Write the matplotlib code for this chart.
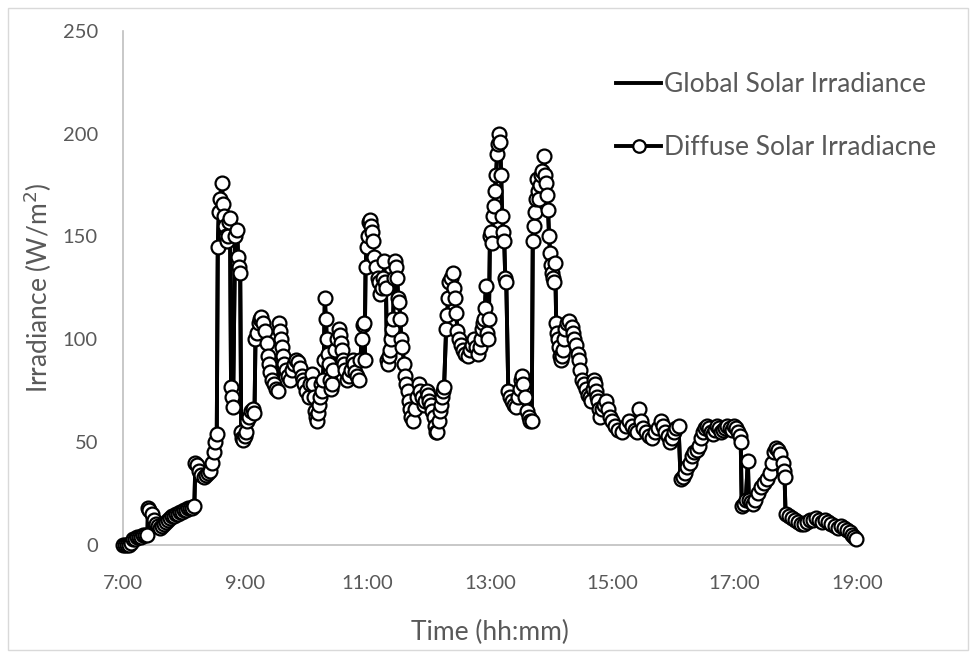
import matplotlib
matplotlib.use("Agg")
import matplotlib.pyplot as plt
from matplotlib.patches import Rectangle
import numpy as np

# minutes after 07:00 and diffuse irradiance (W/m2)
t_min = [0,2,4,6,8,10,12,14,16,18,20,22,24,
 24.5,26,28,30,32,34,36,38,40,42,44,46,48,50,52,54,56,58,60,62,64,66,68,70,
 71,73,75,77,79,81,83,85,87,89,90,92,
 93,94,95,97,98,99,100,101,102,103,104,105,
 106,107,108,
 110,112,113,114,115,
 116,117,118,120,121,122,124,126,128,129,
 130,131,133,134,135,137,139,141,142,143,144,146,148,150,152,
 153,154,155,156,157,158,160,162,164,166,168,170,172,174,176,177,178,180,182,183,185,186,187,188,189,190,191,192,193,194,195,196,197,198,199,200,201,202,203,204,205,206,208,210,212,213,214,215,216,217,218,220,222,224,226,227,228,230,232,233,234,235,236,237,
 238,239,240,241,242,243,244,245,246,248,250,251,252,254,255,256,257,258,
 259,260,261,262,263,264,265,266,267,268,269,270,271,272,273,274,276,277,278,280,281,282,283,285,286,288,290,291,293,295,296,298,299,300,302,303,305,306,307,308,310,311,312,313,314,315,
 317,318,319,320,322,324,325,326,327,328,330,332,334,336,338,340,342,344,346,348,350,351,352,353,354,355,356,357,358,359,
 360,361,362,363,364,365,366,367,368,369,370,371,372,373,374,375,376,
 378,380,382,384,386,388,389,390,391,392,394,396,398,399,401,
 402,403,404,405,406,407,408,409,410,411,413,414,415,416,417,418,419,420,421,422,423,424,
 425,426,427,428,429,430,431,432,433,434,436,438,440,441,442,444,446,447,448,450,452,454,456,458,459,461,462,463,464,465,466,467,468,470,472,474,476,478,480,483,486,490,493,496,499,502,504,506,508,510,513,516,519,522,525,528,530,532,535,537,539,541,543,545,
 547,549,551,553,556,558,560,563,565,567,569,571,573,575,577,579,581,583,585,587,589,591,593,595,597,599,601,603,605,606,
 607,609,611,613,614,616,618,620,623,626,629,632,635,637,639,641,643,645,647,648,649,
 650,653,656,659,662,665,668,671,674,677,680,683,686,689,692,695,698,701,704,707,710,713,715,717,719]

diffuse = [0,0,0,0,1,3,3,4,4,4,5,5,5,
 18,17,15,12,10,9,8,9,10,11,12,13,14,14,15,15,16,16,17,17,18,18,18,19,
 40,39,36,34,33,34,35,36,40,45,50,54,
 145,162,168,176,166,160,155,150,148,150,157,159,
 77,72,67,
 150,153,140,135,132,
 55,52,51,53,55,60,62,65,66,64,
 100,103,108,110,111,108,104,98,92,88,84,80,78,76,75,
 108,104,100,96,92,88,85,82,80,85,88,90,89,86,82,80,78,75,72,78,83,78,72,65,62,60,64,68,72,78,75,80,90,120,110,100,93,88,80,76,78,85,95,100,105,102,98,95,90,88,85,80,82,85,90,88,84,82,80,90,100,107,108,90,
 135,145,150,157,158,155,152,148,140,135,130,128,122,125,130,138,128,125,
 90,88,92,95,100,105,110,130,138,135,130,120,118,110,100,96,88,82,78,75,70,66,62,60,66,72,78,75,72,68,70,75,73,70,68,65,62,58,55,55,60,65,68,72,75,77,
 105,112,120,128,130,132,125,120,113,104,100,97,95,93,92,95,97,100,96,93,96,100,105,108,110,115,126,103,100,110,
 150,152,147,160,165,172,180,190,195,200,196,180,160,152,148,130,128,
 75,72,70,68,67,72,76,80,82,78,72,65,62,60,60,
 148,155,162,168,178,172,168,175,180,182,189,180,176,170,163,150,142,136,132,130,128,137,
 108,103,100,96,92,90,92,95,100,105,108,109,106,103,100,97,93,90,85,80,78,76,73,72,70,76,80,78,75,72,70,66,62,66,68,70,66,62,60,58,56,55,58,60,58,56,55,66,60,57,55,53,52,55,57,60,58,55,53,50,52,55,57,58,
 32,33,35,38,40,43,45,46,48,52,55,57,58,57,55,54,56,58,57,55,56,57,58,57,56,58,57,55,53,50,
 19,20,22,41,22,21,20,22,25,28,30,32,35,40,45,47,46,44,40,36,33,
 15,14,13,12,11,10,10,11,12,12,13,12,11,12,11,10,9,8,9,8,7,6,5,4,3]

# Global line coincides with the visible black connecting line
global_irr = list(diffuse)

x_ticks = [7, 9, 11, 13, 15, 17, 19]
x_labels = ["7:00", "9:00", "11:00", "13:00", "15:00", "17:00", "19:00"]
y_ticks = [0, 50, 100, 150, 200, 250]

hours = 7 + np.array(t_min) / 60.0

plt.rcParams['font.family'] = ['Lato', 'DejaVu Sans']
fig = plt.figure(figsize=(9.76, 6.58), dpi=100)
ax = fig.add_axes([0.126, 0.172, 0.752, 0.781])

ax.plot(hours, global_irr, color='black', lw=2.8, label='Global Solar Irradiance', zorder=2)
ax.plot(hours, diffuse, color='black', lw=2.8, marker='o', markersize=10,
        markerfacecolor='white', markeredgecolor='black', markeredgewidth=1.6,
        label='Diffuse Solar Irradiacne', zorder=3, clip_on=False)

ax.set_xlim(7, 19)
ax.set_ylim(0, 250)
ax.set_xticks(x_ticks)
ax.set_xticklabels(x_labels)
ax.set_yticks(y_ticks)
ax.tick_params(axis='both', length=0, labelsize=14.5, labelcolor='#595959')
ax.tick_params(axis='x', pad=22)
ax.tick_params(axis='y', pad=18)
for s in ['top', 'right']:
    ax.spines[s].set_visible(False)
for s in ['left', 'bottom']:
    ax.spines[s].set_color('#BFBFBF')
    ax.spines[s].set_linewidth(1.2)

ax.set_xlabel('Time (hh:mm)', fontsize=19, color='#595959', labelpad=20)
ax.set_ylabel('Irradiance (W/m$^2$)', fontsize=19, color='#595959', labelpad=6)

leg = fig.legend(loc='upper left', bbox_to_anchor=(0.607, 0.926), frameon=False,
                 fontsize=19, labelspacing=1.42, handlelength=1.7, handletextpad=0.1,
                 labelcolor='#595959')
for h in leg.legend_handles:
    h.set_markersize(9)

fig.patches.append(Rectangle((0.008, 0.012), 0.984, 0.976, transform=fig.transFigure,
                             fill=False, edgecolor='#D9D9D9', lw=1))

fig.savefig('out.png', dpi=100)
